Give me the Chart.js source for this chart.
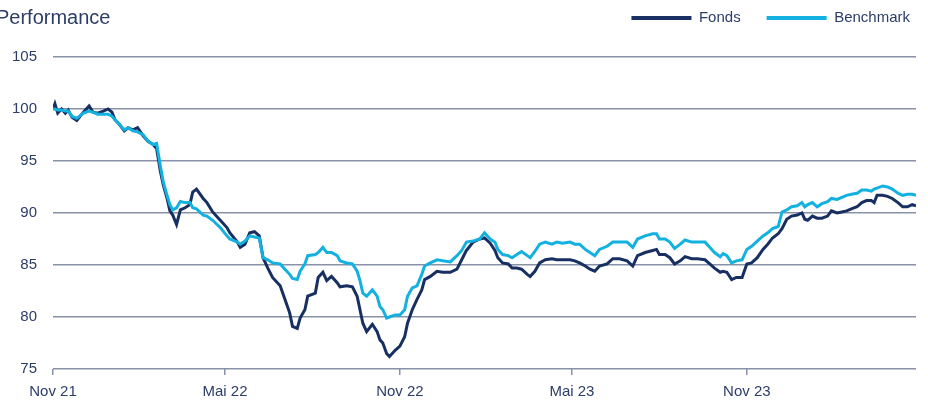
<!DOCTYPE html>
<html>
<head>
<meta charset="utf-8">
<script src="https://cdn.jsdelivr.net/npm/chart.js@4.4.1/dist/chart.umd.min.js"></script>
<style>
  html, body { margin: 0; padding: 0; background: #fff; }
  #wrap { position: relative; width: 928px; height: 401px; overflow: hidden; }
  #title {
    position: absolute; left: -4px; top: 6px;
    font: 20px "Liberation Sans", Arial, sans-serif; color: #2c3d68;
  }
</style>
</head>
<body>
<div id="wrap">
  <div id="title">Performance</div>
  <canvas id="perfChart" width="928" height="401"></canvas>
</div>
<script>
// days since 1 Nov 2021
const days = [
  0, 2, 5, 9, 13, 16, 20, 25, 32, 38, 42, 47, 53, 58, 62, 65, 70, 75, 79, 84,
  89, 95, 100, 105, 109, 113, 116, 120, 123, 126, 130, 134, 139, 144, 147, 151, 158, 162, 168, 176,
  183, 186, 194, 197, 202, 207, 212, 217, 221, 226, 231, 239, 244, 249, 252, 257, 260, 265, 268, 276,
  279, 284, 288, 293, 299, 302, 309, 315, 320, 323, 326, 330, 336, 341, 344, 347, 351, 354, 360, 365,
  370, 373, 378, 383, 388, 391, 397, 404, 410, 418, 425, 430, 435, 442, 449, 454, 460, 465, 468, 473,
  479, 483, 488, 493, 499, 502, 507, 512, 518, 525, 530, 536, 544, 549, 554, 560, 565, 570, 575, 583,
  589, 596, 604, 610, 615, 623, 631, 635, 638, 644, 649, 654, 660, 665, 672, 678, 686, 691, 696, 702,
  705, 709, 714, 719, 725, 730, 735, 741, 747, 752, 757, 763, 767, 772, 777, 783, 788, 791, 794, 799,
  804, 809, 815, 819, 825, 830, 835, 840, 846, 851, 856, 861, 864, 867, 873, 878, 883, 889, 894, 899,
  904, 908
];

const fonds = [
  100.0, 100.5, 99.6, 100.0, 99.6, 99.9, 99.2, 98.9, 99.7, 100.3, 99.7, 99.6, 99.8, 100.0, 99.7, 99.0, 98.5, 97.9, 98.2, 98.0,
  98.2, 97.4, 96.9, 96.6, 96.2, 94.0, 92.7, 91.4, 90.2, 89.8, 88.9, 90.3, 90.5, 90.8, 92.0, 92.3, 91.4, 91.0, 90.1, 89.3,
  88.6, 88.1, 87.2, 86.7, 87.0, 88.1, 88.2, 87.8, 85.7, 84.7, 83.8, 83.0, 81.7, 80.4, 79.1, 78.9, 79.9, 80.7, 82.0, 82.3,
  83.8, 84.3, 83.5, 83.9, 83.3, 82.9, 83.0, 82.9, 82.0, 80.7, 79.4, 78.6, 79.3, 78.6, 77.8, 77.5, 76.5, 76.2, 76.8, 77.2,
  78.1, 79.4, 80.7, 81.7, 82.6, 83.6, 83.9, 84.4, 84.3, 84.3, 84.6, 85.5, 86.4, 87.2, 87.5, 87.6, 87.1, 86.4, 85.7, 85.2,
  85.1, 84.7, 84.7, 84.6, 84.1, 83.9, 84.4, 85.2, 85.5, 85.6, 85.5, 85.5, 85.5, 85.4, 85.2, 84.9, 84.6, 84.4, 84.9, 85.1,
  85.6, 85.6, 85.4, 84.9, 85.9, 86.2, 86.4, 86.5, 86.0, 86.0, 85.7, 85.1, 85.4, 85.8, 85.6, 85.6, 85.5, 85.1, 84.7, 84.3,
  84.4, 84.3, 83.6, 83.8, 83.8, 85.1, 85.2, 85.7, 86.5, 87.0, 87.6, 88.0, 88.5, 89.4, 89.7, 89.8, 90.0, 89.4, 89.3, 89.7,
  89.5, 89.5, 89.7, 90.2, 90.0, 90.1, 90.2, 90.4, 90.6, 91.0, 91.2, 91.2, 91.0, 91.7, 91.7, 91.6, 91.4, 91.0, 90.6, 90.6,
  90.8, 90.7
];

const benchmark = [
  100.0, 100.0, 99.9, 99.9, 99.8, 99.8, 99.3, 99.1, 99.6, 99.8, 99.7, 99.5, 99.5, 99.5, 99.3, 99.0, 98.5, 98.0, 98.2, 97.9,
  97.8, 97.5, 96.9, 96.6, 96.7, 94.5, 93.0, 91.7, 90.8, 90.3, 90.5, 91.1, 91.0, 91.0, 90.5, 90.4, 89.8, 89.7, 89.3, 88.6,
  87.8, 87.5, 87.2, 87.0, 87.3, 87.8, 87.7, 87.6, 85.7, 85.5, 85.2, 85.1, 84.6, 84.1, 83.7, 83.6, 84.4, 85.1, 85.9, 86.0,
  86.2, 86.7, 86.2, 86.2, 85.9, 85.4, 85.2, 85.1, 84.4, 83.5, 82.3, 82.0, 82.6, 82.0, 81.0, 80.7, 79.9, 80.0, 80.2, 80.2,
  80.7, 82.0, 82.8, 83.0, 84.1, 84.9, 85.2, 85.5, 85.4, 85.3, 85.9, 86.4, 87.2, 87.3, 87.5, 88.1, 87.5, 87.2, 86.5, 86.0,
  85.9, 85.7, 86.0, 86.3, 85.9, 85.7, 86.3, 87.0, 87.2, 87.0, 87.2, 87.1, 87.2, 87.0, 87.0, 86.5, 86.2, 85.9, 86.5, 86.8,
  87.2, 87.2, 87.2, 86.7, 87.5, 87.8, 88.0, 88.0, 87.5, 87.5, 87.2, 86.6, 87.0, 87.4, 87.2, 87.2, 87.2, 86.7, 86.2, 85.8,
  86.1, 85.9, 85.2, 85.4, 85.5, 86.5, 86.8, 87.3, 87.8, 88.1, 88.5, 88.7, 90.1, 90.3, 90.6, 90.7, 91.0, 90.6, 90.8, 91.0,
  90.6, 90.9, 91.1, 91.4, 91.3, 91.5, 91.7, 91.8, 91.9, 92.2, 92.2, 92.1, 92.3, 92.4, 92.6, 92.5, 92.3, 91.9, 91.7, 91.8,
  91.8, 91.7
];

// x-axis ticks (days since 1 Nov 2021) and their labels
const tickDays = [0, 181, 365, 546, 730];
const tickLabels = ['Nov 21', 'Mai 22', 'Nov 22', 'Mai 23', 'Nov 23'];

const textColor = '#2c3d68';
const gridColor = '#8791a8';
const fontFamily = '"Liberation Sans", Arial, sans-serif';

function toPoints(values) {
    return values.map((v, i) => ({ x: days[i], y: v }));
}

// legend sits in the top strip; keep plot top at the 105 line
const legendPlacement = {
    id: 'legendPlacement',
    beforeUpdate(chart) {
        const lg = chart.legend;
        if (lg && !lg._fixed) {
            const fit = lg.fit;
            lg.fit = function () { fit.call(this); this.height = 57; };
            lg._fixed = true;
        }
    },
    afterLayout(chart) {
        const lg = chart.legend;
        if (lg) {
            lg.top = -15.5;
            lg.right = 936;
        }
    }
};

new Chart(document.getElementById('perfChart').getContext('2d'), {
    type: 'line',
    data: {
        datasets: [
            {
                label: 'Fonds',
                data: toPoints(fonds),
                borderColor: '#182f61',
                backgroundColor: '#182f61',
                borderWidth: 3,
                pointRadius: 0,
                tension: 0
            },
            {
                label: 'Benchmark',
                data: toPoints(benchmark),
                borderColor: '#12b1e0',
                backgroundColor: '#12b1e0',
                borderWidth: 3,
                pointRadius: 0,
                tension: 0,
                order: -1
            }
        ]
    },
    options: {
        responsive: false,
        animation: false,
        layout: { padding: { top: 0, right: 12, bottom: 0, left: 0 } },
        scales: {
            x: {
                type: 'linear',
                min: 0,
                max: 908,
                afterBuildTicks: (scale) => {
                    scale.ticks = tickDays.map(d => ({ value: d }));
                },
                afterFit: (scale) => { scale.height = 32; },
                ticks: {
                    autoSkip: false,
                    maxRotation: 0,
                    padding: 8,
                    color: textColor,
                    font: { family: fontFamily, size: 15 },
                    callback: (value) => tickLabels[tickDays.indexOf(value)]
                },
                grid: {
                    drawOnChartArea: false,
                    drawTicks: true,
                    tickLength: 6,
                    color: gridColor,
                    lineWidth: 1.5
                },
                border: { display: false }
            },
            y: {
                min: 75,
                max: 105,
                afterFit: (scale) => { scale.width = 53; },
                ticks: {
                    stepSize: 5,
                    padding: 16,
                    color: textColor,
                    font: { family: fontFamily, size: 15 }
                },
                grid: {
                    drawTicks: false,
                    color: gridColor,
                    lineWidth: 1.5
                },
                border: { display: false }
            }
        },
        plugins: {
            title: { display: false },
            tooltip: { enabled: false },
            legend: {
                position: 'top',
                align: 'end',
                labels: {
                    boxWidth: 60,
                    boxHeight: 4,
                    padding: 26,
                    color: textColor,
                    font: { family: fontFamily, size: 15 },
                    sort: (a, b) => a.datasetIndex - b.datasetIndex,
                    generateLabels: (chart) => {
                        const items = Chart.defaults.plugins.legend.labels.generateLabels(chart);
                        return items.map(it => Object.assign(it, { lineWidth: 0 }));
                    }
                }
            }
        }
    },
    plugins: [legendPlacement]
});
</script>
</body>
</html>
